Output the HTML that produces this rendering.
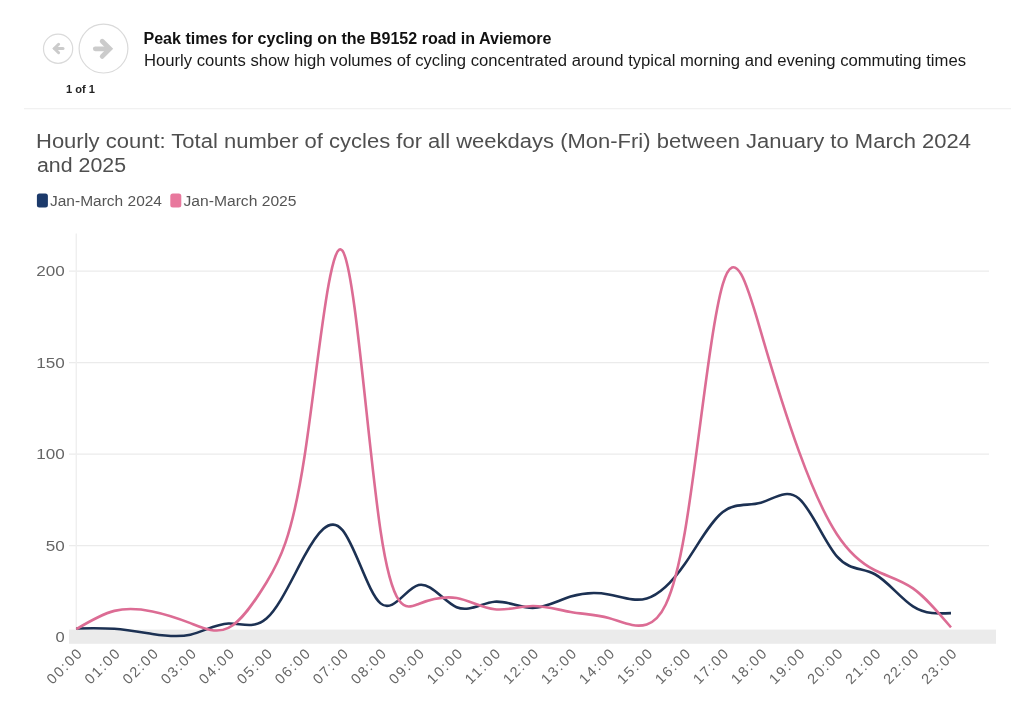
<!DOCTYPE html>
<html><head><meta charset="utf-8">
<style>
html,body{margin:0;padding:0;background:#fff;}
body{width:1024px;height:701px;position:relative;overflow:hidden;font-family:"Liberation Sans",sans-serif;}
svg{position:absolute;left:0;top:0;font-family:"Liberation Sans",sans-serif;will-change:transform;}
</style></head><body>
<svg width="1024" height="701" viewBox="0 0 1024 701">
<rect x="24" y="108.1" width="987" height="1.2" fill="#f0f0f0"/>
<circle cx="58.1" cy="48.7" r="14.6" fill="none" stroke="#dadada" stroke-width="1.2"/>
<path d="M63,48.5H54.6" fill="none" stroke="#cbcbcb" stroke-width="3" stroke-linecap="round"/><path d="M58.6,44.3L54.4,48.5L58.6,52.7" fill="none" stroke="#cbcbcb" stroke-width="3" stroke-linecap="round" stroke-linejoin="miter"/>
<circle cx="103.5" cy="48.6" r="24.4" fill="none" stroke="#dadada" stroke-width="1.2"/>
<path d="M95.3,48.8H109" fill="none" stroke="#cbcbcb" stroke-width="4.8" stroke-linecap="round"/><path d="M102.2,41.2L109.8,48.8L102.2,56.4" fill="none" stroke="#cbcbcb" stroke-width="4.8" stroke-linecap="round" stroke-linejoin="miter"/>
<g stroke="#ebebeb" stroke-width="1.4"><line x1="69" y1="271.11" x2="989" y2="271.11"/><line x1="69" y1="362.62" x2="989" y2="362.62"/><line x1="69" y1="454.14" x2="989" y2="454.14"/><line x1="69" y1="545.65" x2="989" y2="545.65"/></g>
<line x1="76.3" y1="233.5" x2="76.3" y2="630" stroke="#efefef" stroke-width="1.5"/>
<rect x="69" y="629.6" width="927" height="14.2" fill="#ebebeb"/>
<g font-size="14.5" fill="#666" text-anchor="end"><text x="64.80" y="276.01" textLength="28.50" lengthAdjust="spacingAndGlyphs">200</text><text x="64.80" y="367.52" textLength="28.50" lengthAdjust="spacingAndGlyphs">150</text><text x="64.80" y="459.04" textLength="28.50" lengthAdjust="spacingAndGlyphs">100</text><text x="64.80" y="550.56" textLength="19.00" lengthAdjust="spacingAndGlyphs">50</text><text x="64.80" y="642.07" textLength="9.20" lengthAdjust="spacingAndGlyphs">0</text></g>
<g font-size="14.5" fill="#666" text-anchor="end"><text transform="translate(82.80,654.80) rotate(-45)" textLength="42.80" lengthAdjust="spacing">00:00</text><text transform="translate(120.83,654.80) rotate(-45)" textLength="42.80" lengthAdjust="spacing">01:00</text><text transform="translate(158.86,654.80) rotate(-45)" textLength="42.80" lengthAdjust="spacing">02:00</text><text transform="translate(196.89,654.80) rotate(-45)" textLength="42.80" lengthAdjust="spacing">03:00</text><text transform="translate(234.92,654.80) rotate(-45)" textLength="42.80" lengthAdjust="spacing">04:00</text><text transform="translate(272.95,654.80) rotate(-45)" textLength="42.80" lengthAdjust="spacing">05:00</text><text transform="translate(310.98,654.80) rotate(-45)" textLength="42.80" lengthAdjust="spacing">06:00</text><text transform="translate(349.01,654.80) rotate(-45)" textLength="42.80" lengthAdjust="spacing">07:00</text><text transform="translate(387.04,654.80) rotate(-45)" textLength="42.80" lengthAdjust="spacing">08:00</text><text transform="translate(425.07,654.80) rotate(-45)" textLength="42.80" lengthAdjust="spacing">09:00</text><text transform="translate(463.10,654.80) rotate(-45)" textLength="42.80" lengthAdjust="spacing">10:00</text><text transform="translate(501.13,654.80) rotate(-45)" textLength="42.80" lengthAdjust="spacing">11:00</text><text transform="translate(539.16,654.80) rotate(-45)" textLength="42.80" lengthAdjust="spacing">12:00</text><text transform="translate(577.19,654.80) rotate(-45)" textLength="42.80" lengthAdjust="spacing">13:00</text><text transform="translate(615.22,654.80) rotate(-45)" textLength="42.80" lengthAdjust="spacing">14:00</text><text transform="translate(653.25,654.80) rotate(-45)" textLength="42.80" lengthAdjust="spacing">15:00</text><text transform="translate(691.28,654.80) rotate(-45)" textLength="42.80" lengthAdjust="spacing">16:00</text><text transform="translate(729.31,654.80) rotate(-45)" textLength="42.80" lengthAdjust="spacing">17:00</text><text transform="translate(767.34,654.80) rotate(-45)" textLength="42.80" lengthAdjust="spacing">18:00</text><text transform="translate(805.37,654.80) rotate(-45)" textLength="42.80" lengthAdjust="spacing">19:00</text><text transform="translate(843.40,654.80) rotate(-45)" textLength="42.80" lengthAdjust="spacing">20:00</text><text transform="translate(881.43,654.80) rotate(-45)" textLength="42.80" lengthAdjust="spacing">21:00</text><text transform="translate(919.46,654.80) rotate(-45)" textLength="42.80" lengthAdjust="spacing">22:00</text><text transform="translate(957.49,654.80) rotate(-45)" textLength="42.80" lengthAdjust="spacing">23:00</text></g>
<path d="M76.30,628.45C88.98,628.16,101.65,627.86,114.33,628.82C127.01,629.77,139.68,631.97,152.36,633.94C165.04,635.91,177.71,637.64,190.39,634.67C203.07,631.71,215.74,624.05,228.42,623.51C241.10,622.97,253.77,629.54,266.45,618.57C279.13,607.59,291.80,579.06,304.48,555.97C317.16,532.88,329.83,515.23,342.51,530.16C355.19,545.10,367.86,592.63,380.54,603.38C393.22,614.13,405.89,588.10,418.57,585.07C431.25,582.05,443.92,602.02,456.60,607.22C469.28,612.42,481.95,602.84,494.63,601.73C507.31,600.61,519.98,607.96,532.66,607.95C545.34,607.94,558.01,600.58,570.69,596.60C583.37,592.63,596.04,592.05,608.72,594.41C621.40,596.77,634.07,602.06,646.75,598.43C659.43,594.80,672.10,582.24,684.78,564.02C697.46,545.80,710.13,521.92,722.81,512.04C735.49,502.17,748.16,506.29,760.84,502.71C773.52,499.13,786.19,487.84,798.87,498.50C811.55,509.16,824.22,541.76,836.90,556.34C849.58,570.92,862.25,567.47,874.93,574.27C887.61,581.08,900.28,598.13,912.96,606.30C925.64,614.48,938.31,613.78,950.99,613.08" fill="none" stroke="#1c3153" stroke-width="2.6" stroke-linecap="butt" stroke-linejoin="round"/>
<path d="M76.30,629.18C88.98,621.63,101.65,614.08,114.33,610.88C127.01,607.68,139.68,608.82,152.36,611.43C165.04,614.04,177.71,618.12,190.39,623.14C203.07,628.17,215.74,634.15,228.42,627.90C241.10,621.66,253.77,603.19,266.45,582.51C279.13,561.83,291.80,538.95,304.48,456.77C317.16,374.58,329.83,233.09,342.51,250.86C355.19,268.62,367.86,445.64,380.54,530.71C393.22,615.78,405.89,608.90,418.57,603.92C431.25,598.95,443.92,595.86,456.60,598.07C469.28,600.27,481.95,607.76,494.63,609.23C507.31,610.71,519.98,606.17,532.66,605.94C545.34,605.71,558.01,609.79,570.69,611.98C583.37,614.17,596.04,614.48,608.72,618.02C621.40,621.56,634.07,628.33,646.75,624.42C659.43,620.51,672.10,605.92,684.78,532.54C697.46,459.16,710.13,327.00,722.81,284.17C735.49,241.34,748.16,287.85,760.84,331.58C773.52,375.30,786.19,416.24,798.87,451.09C811.55,485.95,824.22,514.73,836.90,534.19C849.58,553.65,862.25,563.79,874.93,570.25C887.61,576.70,900.28,579.46,912.96,588.37C925.64,597.27,938.31,612.31,950.99,627.35" fill="none" stroke="#dc6c94" stroke-width="2.6" stroke-linecap="butt" stroke-linejoin="round"/>
<text x="143.50" y="44.00" font-size="16" textLength="408.00" lengthAdjust="spacingAndGlyphs" fill="#111" font-weight="bold">Peak times for cycling on the B9152 road in Aviemore</text>
<text x="144.00" y="66.00" font-size="16" textLength="822.00" lengthAdjust="spacingAndGlyphs" fill="#1a1a1a">Hourly counts show high volumes of cycling concentrated around typical morning and evening commuting times</text>
<text x="66.00" y="93.00" font-size="11" textLength="29.00" lengthAdjust="spacingAndGlyphs" fill="#222" font-weight="bold">1 of 1</text>
<text x="36.00" y="148.00" font-size="20" textLength="935.00" lengthAdjust="spacingAndGlyphs" fill="#4f4f4f">Hourly count: Total number of cycles for all weekdays (Mon-Fri) between January to March 2024</text>
<text x="37.00" y="172.00" font-size="20" textLength="89.00" lengthAdjust="spacingAndGlyphs" fill="#4f4f4f">and 2025</text>
<rect x="36.9" y="193.5" width="11" height="14" rx="2.5" fill="#1c3a6b"/>
<rect x="170.3" y="193.5" width="11" height="14" rx="2.5" fill="#e8789d"/>
<text x="50.00" y="206.00" font-size="14" textLength="112.00" lengthAdjust="spacingAndGlyphs" fill="#555">Jan-March 2024</text>
<text x="183.50" y="206.00" font-size="14" textLength="113.00" lengthAdjust="spacingAndGlyphs" fill="#555">Jan-March 2025</text>
</svg>
</body></html>
